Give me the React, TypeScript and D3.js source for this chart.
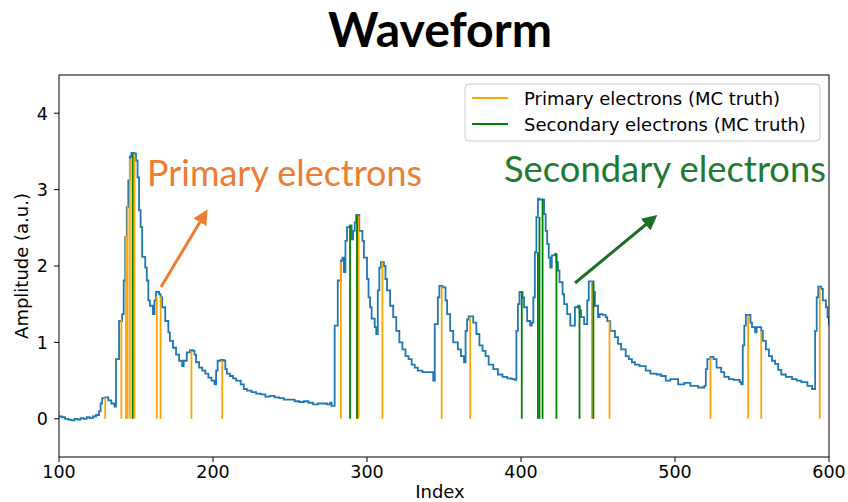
import React from "react";
import * as d3 from "d3";

const waveIndex = [
  100, 102, 104, 106, 108, 110, 112, 114, 116, 118, 120, 122, 124, 126, 127, 128, 130, 132, 134, 136,
  137, 139, 141, 142, 143, 144, 145, 146, 147, 149, 150, 151, 152, 153, 154, 156, 157, 158, 159, 161,
  162, 163, 165, 166, 167, 169, 171, 172, 174, 176, 178, 180, 181, 183, 185, 187, 188, 189, 191, 193,
  195, 197, 199, 201, 202, 203, 205, 207, 208, 209, 211, 213, 215, 218, 220, 222, 225, 228, 231, 234,
  237, 240, 243, 246, 250, 253, 256, 259, 262, 265, 268, 271, 274, 276, 277, 279, 281, 283, 284, 285,
  286, 287, 289, 290, 291, 292, 293, 295, 297, 298, 300, 301, 302, 303, 305, 306, 307, 308, 309, 311,
  312, 313, 315, 317, 319, 321, 323, 325, 327, 329, 331, 333, 336, 340, 343, 344, 346, 347, 349, 351,
  352, 354, 356, 359, 361, 363, 364, 365, 366, 369, 371, 373, 375, 377, 379, 382, 385, 388, 391, 394,
  396, 397, 398, 399, 401, 402, 404, 406, 407, 408, 409, 410, 411, 412, 415, 416, 417, 418, 419, 420,
  422, 423, 424, 425, 427, 428, 430, 432, 435, 437, 438, 439, 441, 443, 444, 447, 448, 450, 451, 453,
  455, 456, 458, 459, 461, 463, 465, 468, 470, 472, 474, 477, 481, 484, 488, 491, 494, 497, 502, 506,
  510, 515, 519, 520, 521, 523, 525, 527, 530, 532, 535, 538, 542, 543, 544, 545, 546, 549, 550, 552,
  553, 556, 557, 559, 561, 563, 565, 567, 569, 572, 576, 579, 582, 586, 589, 591, 592, 593, 595, 596,
  598, 599, 600,
];
const waveAmp = [
  0.03, 0.02, 0.0, -0.01, -0.02, 0.0, -0.01, 0.01, 0.0, 0.02, 0.01, 0.03, 0.05, 0.1, 0.2, 0.27, 0.28, 0.24, 0.2, 0.16,
  0.78, 1.28, 1.37, 1.81, 2.38, 2.77, 3.12, 3.43, 3.48, 3.47, 3.38, 3.16, 2.73, 2.51, 2.12, 1.98, 1.81, 1.55, 1.48, 1.37,
  1.55, 1.66, 1.63, 1.59, 1.46, 1.28, 1.13, 1.02, 0.93, 0.84, 0.76, 0.69, 0.76, 0.87, 0.9, 0.89, 0.84, 0.74, 0.67, 0.63,
  0.59, 0.54, 0.5, 0.45, 0.63, 0.76, 0.77, 0.76, 0.65, 0.59, 0.56, 0.53, 0.5, 0.45, 0.39, 0.37, 0.35, 0.33, 0.32, 0.29,
  0.3, 0.28, 0.27, 0.25, 0.25, 0.23, 0.22, 0.23, 0.21, 0.19, 0.2, 0.2, 0.19, 0.21, 0.17, 1.22, 1.81, 2.07, 2.11, 1.92,
  2.33, 2.51, 2.53, 2.35, 2.46, 2.57, 2.67, 2.46, 2.33, 2.11, 1.83, 1.59, 1.46, 1.31, 1.2, 1.11, 1.68, 1.98, 2.05, 2.0,
  1.83, 1.68, 1.48, 1.33, 1.15, 1.0, 0.91, 0.82, 0.78, 0.71, 0.67, 0.63, 0.61, 0.61, 0.5, 1.24, 1.59, 1.74, 1.72, 1.55,
  1.37, 1.15, 1.0, 0.91, 0.82, 0.74, 1.15, 1.3, 1.34, 1.26, 1.11, 0.96, 0.89, 0.82, 0.71, 0.65, 0.58, 0.55, 0.53, 0.52,
  0.51, 1.15, 1.5, 1.66, 1.59, 1.46, 1.28, 1.22, 1.26, 1.59, 2.18, 2.64, 2.88, 2.87, 2.68, 2.46, 2.29, 2.11, 1.98, 2.14,
  2.16, 2.05, 1.94, 1.79, 1.63, 1.5, 1.37, 1.22, 1.46, 1.48, 1.42, 1.33, 1.24, 1.55, 1.8, 1.66, 1.48, 1.33, 1.37, 1.36,
  1.33, 1.28, 1.15, 1.15, 1.07, 0.98, 0.91, 0.82, 0.78, 0.74, 0.71, 0.69, 0.63, 0.59, 0.58, 0.56, 0.5, 0.52, 0.45, 0.47,
  0.43, 0.41, 0.43, 0.65, 0.78, 0.81, 0.78, 0.67, 0.61, 0.55, 0.52, 0.51, 0.48, 0.45, 0.96, 1.22, 1.36, 1.26, 1.2, 1.13,
  1.2, 1.15, 1.02, 0.91, 0.82, 0.76, 0.72, 0.64, 0.58, 0.55, 0.52, 0.5, 0.48, 0.43, 0.39, 1.15, 1.59, 1.73, 1.7, 1.55,
  1.46, 1.33, 1.22,
];

const primaryIndex = [130, 140.5, 143.5, 144.5, 146, 149, 163.5, 166, 186, 206, 283, 294.5, 310, 348.5, 367, 446, 457.5, 523, 547.5, 556, 594];
const primaryAmp = [0.28, 1.3, 2.4, 2.8, 3.4, 3.45, 1.6, 1.6, 0.89, 0.76, 2.05, 2.66, 2.05, 1.73, 1.33, 1.8, 1.29, 0.8, 1.35, 1.15, 1.72];

const secondaryIndex = [147.8, 289, 293.5, 400.5, 411, 412, 414, 423, 438, 447];
const secondaryAmp = [3.47, 2.53, 2.66, 1.66, 2.18, 2.64, 2.88, 2.16, 1.48, 1.8];

const xTicks = [100, 200, 300, 400, 500, 600];
const yTicks = [0, 1, 2, 3, 4];
const legendLabels = ["Primary electrons (MC truth)", "Secondary electrons (MC truth)"];

const W = 848;
const H = 502;
const L = 59, R = 829, T = 75, B = 457;

export default function App() {
  const x = d3.scaleLinear().domain([100, 600]).range([L, R]);
  const y = d3.scaleLinear().domain([-0.5, 4.5]).range([B, T]);
  const pts = waveIndex.map((d, i) => [d, waveAmp[i]] as [number, number]);
  const line = d3
    .line<[number, number]>()
    .x((d) => x(d[0]))
    .y((d) => y(d[1]))
    .curve(d3.curveStepAfter);
  const font = "'DejaVu Sans', sans-serif";
  const orange = "#ffa500";
  const green = "#008000";
  return (
    <svg
      width={W}
      height={H}
      style={{ position: "absolute", left: 0, top: 0, background: "#fff" }}
      fontFamily={font}
    >
      <defs>
        <clipPath id="plotclip">
          <rect x={L} y={T} width={R - L} height={B - T} />
        </clipPath>
        <marker id="arrO" viewBox="0 0 10 10" refX="8" refY="5" markerWidth="5" markerHeight="5" orient="auto">
          <path d="M0,0 L10,5 L0,10 z" fill="#ed7d31" />
        </marker>
        <marker id="arrG" viewBox="0 0 10 10" refX="8" refY="5" markerWidth="5" markerHeight="5" orient="auto">
          <path d="M0,0 L10,5 L0,10 z" fill="#1e6e28" />
        </marker>
      </defs>
      <rect x={0} y={0} width={W} height={H} fill="#fff" />
      <text
        x={440}
        y={47}
        textAnchor="middle"
        fontFamily="Lato, 'Open Sans', sans-serif"
        fontWeight="bold"
        fontSize={47}
        textLength={224}
        lengthAdjust="spacingAndGlyphs"
      >
        Waveform
      </text>
      <g clipPath="url(#plotclip)">
        <path d={line(pts) || ""} fill="none" stroke="#1f77b4" strokeWidth={1.8} strokeLinejoin="miter" />
        {primaryIndex.map((d, i) => (
          <line key={"p" + i} x1={x(d)} x2={x(d)} y1={y(0)} y2={y(primaryAmp[i])} stroke={orange} strokeWidth={1.8} />
        ))}
        {secondaryIndex.map((d, i) => (
          <line key={"s" + i} x1={x(d)} x2={x(d)} y1={y(0)} y2={y(secondaryAmp[i])} stroke={green} strokeWidth={1.8} />
        ))}
      </g>
      <rect x={L} y={T} width={R - L} height={B - T} fill="none" stroke="#000" strokeWidth={1} />
      {xTicks.map((t) => (
        <g key={"x" + t}>
          <line x1={x(t)} x2={x(t)} y1={B} y2={B + 5} stroke="#000" strokeWidth={1} />
          <text x={x(t)} y={478} textAnchor="middle" fontSize={17.5}>
            {t}
          </text>
        </g>
      ))}
      {yTicks.map((t) => (
        <g key={"y" + t}>
          <line x1={L - 5} x2={L} y1={y(t)} y2={y(t)} stroke="#000" strokeWidth={1} />
          <text x={48} y={y(t) + 6.3} textAnchor="end" fontSize={17.5}>
            {t}
          </text>
        </g>
      ))}
      <text x={440} y={498} textAnchor="middle" fontSize={18}>
        Index
      </text>
      <text transform="translate(28,266) rotate(-90)" textAnchor="middle" fontSize={18}>
        Amplitude (a.u.)
      </text>
      <g>
        <rect x={465} y={84} width={355} height={57} rx={4} fill="#fff" fillOpacity={0.8} stroke="#ccc" strokeWidth={1} />
        <line x1={472} x2={508} y1={98} y2={98} stroke={orange} strokeWidth={1.8} />
        <line x1={472} x2={508} y1={124} y2={124} stroke={green} strokeWidth={1.8} />
        <text x={524} y={104.5} fontSize={18}>
          {legendLabels[0]}
        </text>
        <text x={524} y={130.5} fontSize={18}>
          {legendLabels[1]}
        </text>
      </g>
      <text
        x={147}
        y={186}
        fill="#ed7d31"
        fontFamily="Lato, 'Open Sans', sans-serif"
        fontSize={36}
        textLength={275}
        lengthAdjust="spacingAndGlyphs"
      >
        Primary electrons
      </text>
      <text
        x={504}
        y={182}
        fill="#217a30"
        fontFamily="Lato, 'Open Sans', sans-serif"
        fontSize={36}
        textLength={322}
        lengthAdjust="spacingAndGlyphs"
      >
        Secondary electrons
      </text>
      <line x1={161} y1={287} x2={206} y2={212} stroke="#ed7d31" strokeWidth={3} markerEnd="url(#arrO)" />
      <line x1={575} y1={283} x2={655} y2={217} stroke="#1e6e28" strokeWidth={3} markerEnd="url(#arrG)" />
    </svg>
  );
}
